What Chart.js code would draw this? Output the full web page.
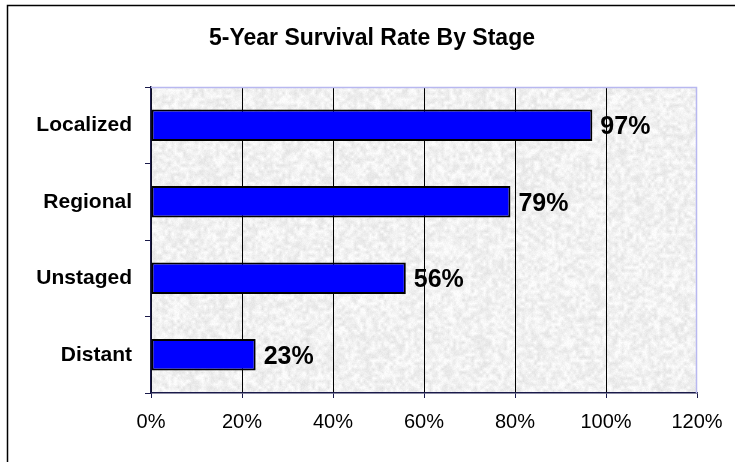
<!DOCTYPE html>
<html>
<head>
<meta charset="utf-8">
<script src="https://cdn.jsdelivr.net/npm/chart.js@4"></script>
<style>
  html, body { margin: 0; padding: 0; background: #ffffff; }
  #wrap { position: relative; width: 735px; height: 462px; }
</style>
</head>
<body>
<div id="wrap"><canvas id="c" width="735" height="462"></canvas></div>
<script>
const chartTitle = '5-Year Survival Rate By Stage';
const categories = ['Localized', 'Regional', 'Unstaged', 'Distant'];
const survivalRates = [97, 79, 56, 23];
const xTickMin = 0;
const xTickMax = 120;
const xTickStep = 20;

const FONT = "'Liberation Sans', Arial, sans-serif";

function hash(i, j) {
  const x = Math.sin(i * 127.1 + j * 311.7) * 43758.5453;
  return x - Math.floor(x);
}

let textureCanvas = null;
function buildTexture(w, h) {
  const cv = document.createElement('canvas');
  cv.width = w; cv.height = h;
  const cx = cv.getContext('2d');
  const img = cx.createImageData(w, h);
  const cell = 3;
  for (let y = 0; y < h; y++) {
    for (let x = 0; x < w; x++) {
      const gx = x / cell, gy = y / cell;
      const ix = Math.floor(gx), iy = Math.floor(gy);
      const fx = gx - ix, fy = gy - iy;
      const a = hash(ix, iy), b = hash(ix + 1, iy), c = hash(ix, iy + 1), d = hash(ix + 1, iy + 1);
      const n = (a * (1 - fx) + b * fx) * (1 - fy) + (c * (1 - fx) + d * fx) * fy;
      const f = hash(x + 1000, y + 2000);
      let v = 228 + n * 26 + (f - 0.5) * 8;
      v = Math.max(200, Math.min(253, v));
      const k = (y * w + x) * 4;
      img.data[k] = v; img.data[k + 1] = v; img.data[k + 2] = v; img.data[k + 3] = 255;
    }
  }
  cx.putImageData(img, 0, 0);
  return cv;
}

const decorPlugin = {
  id: 'decor',
  beforeDraw(chart) {
    const { ctx, chartArea: a } = chart;
    const w = Math.round(a.right - a.left), h = Math.round(a.bottom - a.top);
    if (!textureCanvas || textureCanvas.width !== w || textureCanvas.height !== h) {
      textureCanvas = buildTexture(w, h);
    }
    ctx.save();
    ctx.drawImage(textureCanvas, a.left, a.top);
    ctx.restore();
  },
  afterDatasetsDraw(chart) {
    const { ctx, chartArea: a } = chart;
    ctx.save();
    ctx.strokeStyle = '#b8b8f0';
    ctx.lineWidth = 1.5;
    ctx.beginPath();
    ctx.moveTo(a.left, a.top + 0.5);
    ctx.lineTo(a.right - 0.5, a.top + 0.5);
    ctx.lineTo(a.right - 0.5, a.bottom);
    ctx.stroke();
    const meta = chart.getDatasetMeta(0);
    ctx.fillStyle = '#000';
    ctx.font = 'bold 25px ' + FONT;
    ctx.textAlign = 'left';
    ctx.textBaseline = 'middle';
    meta.data.forEach((bar, i) => {
      ctx.fillText(survivalRates[i] + '%', bar.x + 8, bar.y + 2);
    });
    ctx.restore();
  },
  afterDraw(chart) {
    const { ctx } = chart;
    ctx.save();
    ctx.strokeStyle = '#000';
    ctx.lineWidth = 1.5;
    ctx.beginPath();
    ctx.moveTo(7.5, 462);
    ctx.lineTo(7.5, 5.5);
    ctx.lineTo(735, 5.5);
    ctx.stroke();
    ctx.fillStyle = '#000';
    ctx.font = 'bold 23px ' + FONT;
    ctx.textAlign = 'center';
    ctx.textBaseline = 'middle';
    ctx.fillText(chartTitle, 372, 39);
    ctx.restore();
  }
};

new Chart(document.getElementById('c'), {
  type: 'bar',
  data: {
    labels: categories,
    datasets: [{
      data: survivalRates,
      backgroundColor: '#0000ff',
      borderColor: '#000000',
      borderWidth: 2,
      borderSkipped: false,
      barPercentage: 0.41,
      categoryPercentage: 1.0
    }]
  },
  options: {
    indexAxis: 'y',
    responsive: false,
    animation: false,
    devicePixelRatio: 1,
    layout: { padding: { top: 87, left: 0, right: 38, bottom: 0 } },
    plugins: {
      legend: { display: false },
      title: { display: false },
      tooltip: { enabled: false }
    },
    scales: {
      x: {
        min: xTickMin,
        max: xTickMax,
        afterFit(scale) { scale.height = 69; },
        ticks: {
          stepSize: xTickStep,
          color: '#000',
          font: { family: FONT, size: 20 },
          padding: 12,
          callback: v => v + '%'
        },
        grid: {
          color: ctx => (ctx.tick && ctx.tick.value === xTickMax) ? 'rgba(0,0,0,0)' : '#000000',
          tickColor: '#1a1a4a',
          tickLength: 5,
          lineWidth: 1
        },
        border: { color: '#1a1a4a', width: 1.5 }
      },
      y: {
        afterFit(scale) { scale.width = 151; },
        ticks: {
          color: '#000',
          font: { family: FONT, size: 21, weight: 'bold' },
          padding: 13
        },
        grid: {
          offset: true,
          drawOnChartArea: false,
          tickColor: '#1a1a4a',
          tickLength: 6
        },
        border: { color: '#1a1a4a', width: 1.5 }
      }
    }
  },
  plugins: [decorPlugin]
});
</script>
</body>
</html>
